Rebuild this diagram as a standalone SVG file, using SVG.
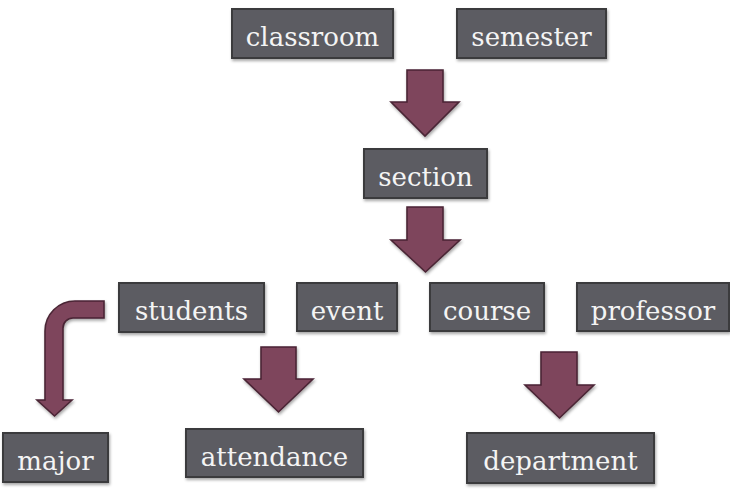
<svg xmlns="http://www.w3.org/2000/svg" width="730" height="494" viewBox="0 0 730 494">
<defs>
<filter id="sh" x="-20%" y="-20%" width="140%" height="150%">
<feDropShadow dx="1" dy="2" stdDeviation="1.8" flood-color="#000" flood-opacity="0.35"/>
</filter>
<style>
.box{fill:#5c5b62;stroke:#3b3a3e;stroke-width:2;filter:url(#sh)}
.lbl{font-family:"DejaVu Serif","Liberation Serif",serif;font-size:26px;fill:#f4f4f4;text-anchor:middle}
.arr{fill:#7e445b;stroke:#4a2535;stroke-width:1.6;stroke-linejoin:miter;filter:url(#sh)}
</style>
</defs>
<rect width="730" height="494" fill="#ffffff"/>
<g id="connectors">
<path class="arr" d="M407,70 H443 V102 H459 L425,136 L391,102 H407 Z"/>
<path class="arr" d="M407,207 H443 V240 H460 L425.5,272 L391,240 H407 Z"/>
<path class="arr" d="M261,347 H296 V379 H313 L278.5,412 L244,379 H261 Z"/>
<path class="arr" d="M541,352 H577 V385 H594 L559.5,418 L525,385 H541 Z"/>
<path class="arr" d="M104,301 H75 A30,30 0 0 0 45,331 V400 H37 L54.5,416 L72,400 H63 V328 A10,10 0 0 1 73,318 H104 Z"/>
</g>
<g id="classroom"><rect class="box" x="232" y="9" width="161" height="49"/><text class="lbl" x="312.5" y="45.5">classroom</text></g>
<g id="semester"><rect class="box" x="457" y="9" width="149" height="49"/><text class="lbl" x="531.5" y="45.5">semester</text></g>
<g id="section"><rect class="box" x="364" y="149" width="123" height="49"/><text class="lbl" x="425.5" y="185.5">section</text></g>
<g id="students"><rect class="box" x="119" y="283" width="145" height="49"/><text class="lbl" x="191.5" y="319.5">students</text></g>
<g id="event"><rect class="box" x="297" y="283" width="100" height="48"/><text class="lbl" x="347" y="319.5">event</text></g>
<g id="course"><rect class="box" x="430" y="283" width="114" height="48"/><text class="lbl" x="487" y="319.5">course</text></g>
<g id="professor"><rect class="box" x="577" y="283" width="152" height="48"/><text class="lbl" x="653" y="319.5">professor</text></g>
<g id="major"><rect class="box" x="3" y="433" width="105" height="49"/><text class="lbl" x="55.5" y="469.5">major</text></g>
<g id="attendance"><rect class="box" x="186" y="429" width="177" height="48"/><text class="lbl" x="274.5" y="465.5">attendance</text></g>
<g id="department"><rect class="box" x="467" y="433" width="187" height="50"/><text class="lbl" x="560.5" y="469.5">department</text></g>
</svg>
